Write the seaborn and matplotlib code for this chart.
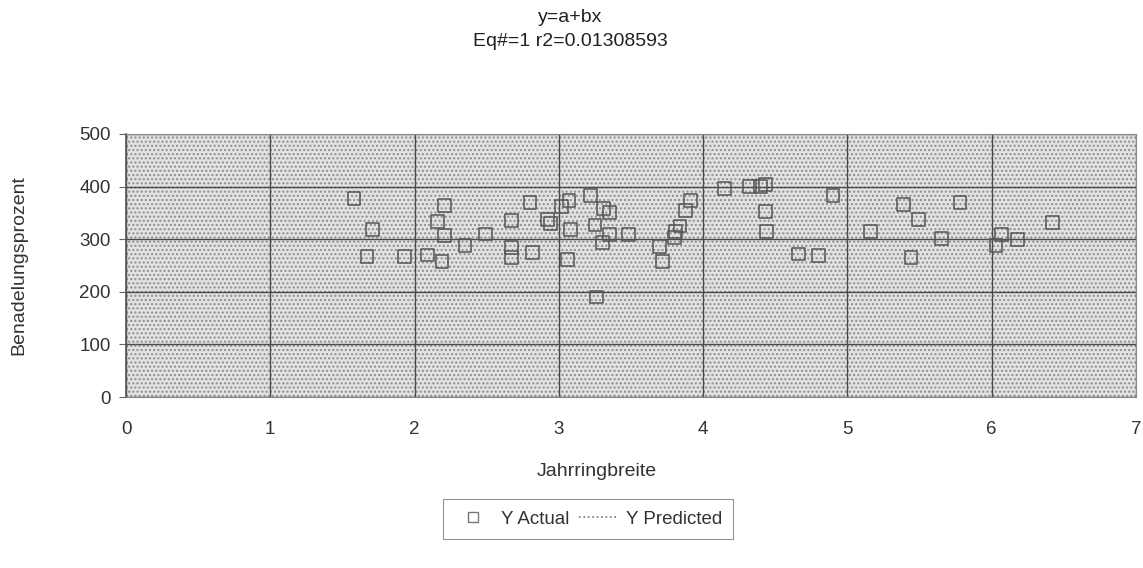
import matplotlib
matplotlib.use("Agg")
import matplotlib.pyplot as plt
import seaborn as sns
import pandas as pd
from matplotlib.lines import Line2D
from matplotlib.patches import Rectangle

# Data
jahrringbreite = [1.58, 1.67, 1.71, 1.93, 2.09, 2.16, 2.19, 2.21, 2.21, 2.35,
                  2.49, 2.67, 2.67, 2.67, 2.80, 2.82, 2.92, 2.94, 3.02, 3.07,
                  3.08, 3.06, 3.22, 3.25, 3.26, 3.30, 3.31, 3.35, 3.35, 3.48,
                  3.70, 3.72, 3.80, 3.81, 3.84, 3.88, 3.91, 4.15, 4.32, 4.40,
                  4.43, 4.43, 4.44, 4.66, 4.80, 4.90, 5.16, 5.39, 5.44, 5.49,
                  5.65, 5.78, 6.03, 6.07, 6.18, 6.42]
benadelung = [377, 267, 318, 267, 270, 333, 257, 364, 307, 288,
              310, 335, 284, 265, 370, 274, 338, 330, 362, 373,
              318, 261, 383, 327, 190, 293, 358, 350, 309, 309,
              286, 257, 303, 314, 325, 354, 373, 396, 400, 400,
              404, 352, 314, 272, 269, 383, 314, 366, 265, 337,
              301, 370, 288, 309, 299, 331]
x_ticks = [0, 1, 2, 3, 4, 5, 6, 7]
y_ticks = [0, 100, 200, 300, 400, 500]
title_lines = ["y=a+bx", "Eq#=1 r2=0.01308593"]

df = pd.DataFrame({"Jahrringbreite": jahrringbreite, "Benadelungsprozent": benadelung})

sns.set_theme(style="white")
plt.rcParams['font.family'] = ['Liberation Sans', 'DejaVu Sans']

W, H = 1143, 568
left_px, right_px, top_px, bot_px = 126, 1136, 134, 397
fig = plt.figure(figsize=(W / 100, H / 100), dpi=100)
ax = fig.add_axes([left_px / W, 1 - bot_px / H, (right_px - left_px) / W, (bot_px - top_px) / H])

ax.set_facecolor('#e2e2e2')
ax.add_patch(Rectangle((0, 0), 1, 1, transform=ax.transAxes, facecolor='none',
                       hatch='....', edgecolor='#8c8c8c', lw=0, zorder=0))

sns.scatterplot(data=df, x="Jahrringbreite", y="Benadelungsprozent", ax=ax,
                marker='s', s=85, facecolor='none', edgecolor='#555555',
                linewidth=1.1, zorder=3, legend=False)

ax.set_xlim(0, 7)
ax.set_ylim(0, 500)
ax.set_xticks(x_ticks)
ax.set_yticks(y_ticks)
ax.set_xticklabels([str(t) for t in x_ticks], fontsize=13.5, color='#333333')
ax.set_yticklabels([str(t) for t in y_ticks], fontsize=13.5, color='#333333')
ax.grid(True, color='#4a4a4a', linewidth=1.0, zorder=1)
ax.set_axisbelow(True)
ax.tick_params(axis='y', left=True, length=5, width=0.8, color='#666666', pad=6)
ax.tick_params(axis='x', bottom=False, pad=11)
for side in ['top', 'bottom', 'right']:
    ax.spines[side].set_color('#888888')
    ax.spines[side].set_linewidth(0.8)
ax.spines['left'].set_color('#555555')
ax.spines['left'].set_linewidth(1.2)

ax.set_xlabel("Jahrringbreite", fontsize=14, color='#333333')
ax.set_ylabel("Benadelungsprozent", fontsize=14, color='#333333')
aw = right_px - left_px
ah = bot_px - top_px
ax.xaxis.set_label_coords((597 - left_px) / aw, (bot_px - 463) / ah)
ax.yaxis.set_label_coords((19 - left_px) / aw, 0.5)
ax.yaxis.label.set_verticalalignment('center')

fig.text(570 / W, 1 - 18 / H, title_lines[0], ha='center', va='center', fontsize=14, color='#222222')
fig.text(570 / W, 1 - 41 / H, title_lines[1], ha='center', va='center', fontsize=14, color='#222222')

handles = [Line2D([], [], marker='s', linestyle='none', markerfacecolor='none',
                  markeredgecolor='#777777', markersize=6.5),
           Line2D([], [], linestyle=':', color='#777777', linewidth=1.2)]
leg = fig.legend(handles, ["Y Actual", "Y Predicted"], ncol=2, loc='upper center',
                 bbox_to_anchor=(588 / W, 1 - 490 / H), fontsize=13.5, frameon=True,
                 fancybox=False, edgecolor='#777777', handlelength=2.0,
                 columnspacing=0.5, handletextpad=0.5, borderpad=0.6)
leg.get_frame().set_linewidth(0.8)
for t in leg.get_texts():
    t.set_color('#333333')

fig.savefig("out.png", dpi=100)
